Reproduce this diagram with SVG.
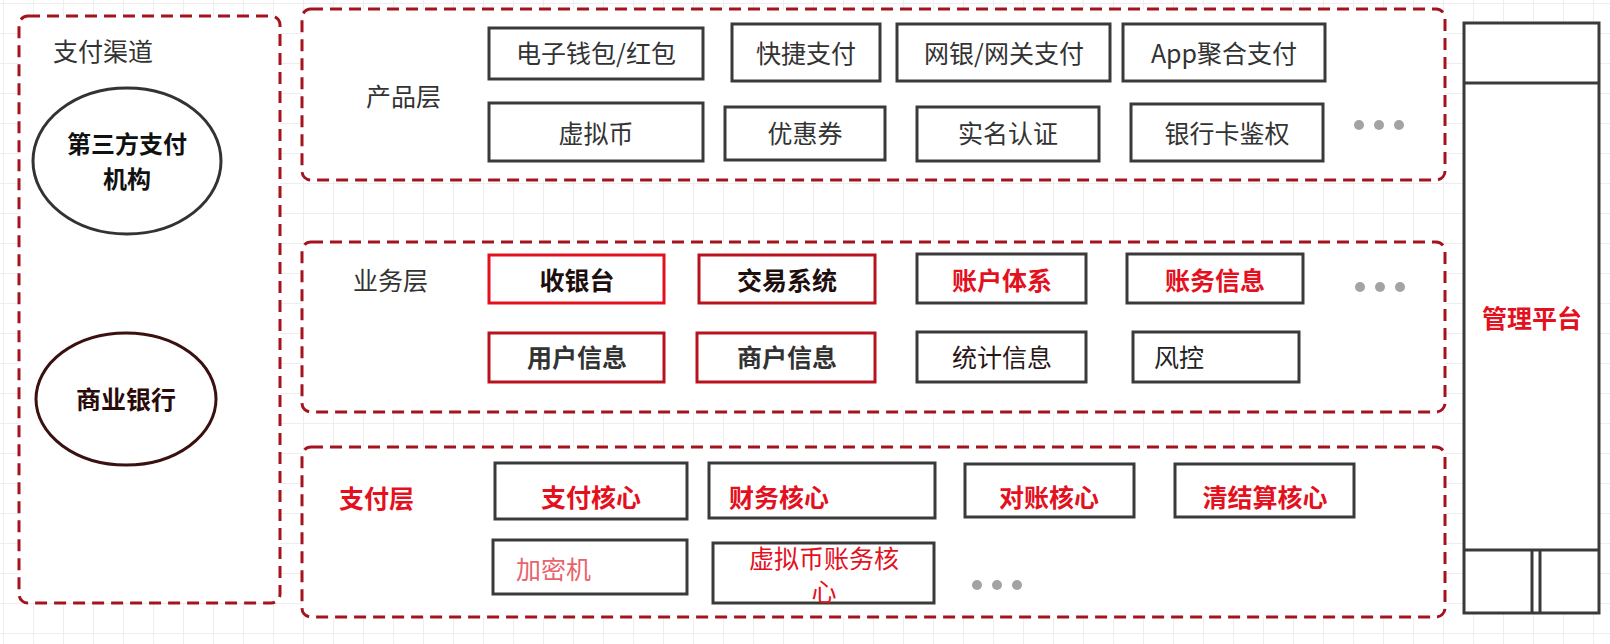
<svg xmlns="http://www.w3.org/2000/svg" width="1610" height="644" viewBox="0 0 1610 644">
<style>
text{font-family:"Noto Sans CJK SC","Noto Sans",sans-serif;font-size:25px}
.layer{fill:#fff;stroke:#a3141f;stroke-width:3;stroke-dasharray:12 7}
.box{fill:#fff;stroke:#3a3a3a;stroke-width:3}
.rbox{fill:#fff;stroke:#b8121e;stroke-width:3}
.rbox2{fill:#fff;stroke:#e3101e;stroke-width:3}
.t{fill:#333}
.c{text-anchor:middle}
.b{font-weight:bold}
.red{fill:#e3101e}
.dk{fill:#1e0e0e}
.dot{fill:#a3a3a3}
</style>
<defs>
<pattern id="grid" width="30" height="30" patternUnits="userSpaceOnUse" x="3" y="3">
<path d="M0 0H30M0 0V30" fill="none" stroke="#e9e9e9" stroke-width="1.5"/>
</pattern>
</defs>
<rect width="1610" height="644" fill="#fff"/>
<rect width="1610" height="644" fill="url(#grid)"/>

<g id="channel">
<rect class="layer" x="19" y="16" width="261" height="587" rx="9"/>
<text class="t" x="53" y="61">支付渠道</text>
</g>
<g id="third-party">
<ellipse cx="127" cy="161" rx="94" ry="73" fill="#fff" stroke="#333" stroke-width="3"/>
<text class="c b" x="127" y="153" fill="#111" style="font-size:24px">第三方支付</text>
<text class="c b" x="127" y="188" fill="#111" style="font-size:24px">机构</text>
</g>
<g id="bank">
<ellipse cx="126" cy="399" rx="90" ry="66" fill="#fff" stroke="#3a1010" stroke-width="3"/>
<text class="c b" x="126" y="409" fill="#2b0a0a">商业银行</text>
</g>

<g id="product-layer">
<rect class="layer" x="302" y="9" width="1143" height="171" rx="9"/>
<text class="t" x="366" y="106">产品层</text>
</g>
<g id="p-wallet"><rect class="box" x="489" y="28" width="214" height="51"/><text class="t c" x="596" y="63">电子钱包/红包</text></g>
<g id="p-quick"><rect class="box" x="732" y="24" width="148" height="57"/><text class="t c" x="806" y="63">快捷支付</text></g>
<g id="p-netbank"><rect class="box" x="897" y="24" width="213" height="57"/><text class="t c" x="1004" y="63">网银/网关支付</text></g>
<g id="p-app"><rect class="box" x="1123" y="24" width="202" height="57"/><text class="t c" x="1224" y="63">App聚合支付</text></g>
<g id="p-vcoin"><rect class="box" x="489" y="103" width="214" height="58"/><text class="t c" x="596" y="143">虚拟币</text></g>
<g id="p-coupon"><rect class="box" x="725" y="107" width="160" height="53"/><text class="t c" x="805" y="143">优惠券</text></g>
<g id="p-realname"><rect class="box" x="917" y="107" width="182" height="54"/><text class="t c" x="1008" y="143">实名认证</text></g>
<g id="p-cardauth"><rect class="box" x="1131" y="104" width="192" height="57"/><text class="t c" x="1227" y="143">银行卡鉴权</text></g>
<g id="p-more"><circle class="dot" cx="1359" cy="125" r="5"/><circle class="dot" cx="1379" cy="125" r="5"/><circle class="dot" cx="1399" cy="125" r="5"/></g>

<g id="business-layer">
<rect class="layer" x="302" y="242" width="1143" height="170" rx="9"/>
<text class="t" x="353" y="290">业务层</text>
</g>
<g id="b-cashier"><rect class="rbox2" x="489" y="255" width="175" height="48"/><text class="c b dk" x="577" y="290">收银台</text></g>
<g id="b-trade"><rect class="rbox" x="699" y="255" width="176" height="48"/><text class="c b dk" x="787" y="290">交易系统</text></g>
<g id="b-account"><rect class="box" x="917" y="254" width="169" height="49"/><text class="c b red" x="1002" y="290">账户体系</text></g>
<g id="b-ledger"><rect class="box" x="1127" y="254" width="176" height="49"/><text class="c b red" x="1215" y="290">账务信息</text></g>
<g id="b-more"><circle class="dot" cx="1360" cy="287" r="5"/><circle class="dot" cx="1380" cy="287" r="5"/><circle class="dot" cx="1400" cy="287" r="5"/></g>
<g id="b-user"><rect class="rbox" x="489" y="333" width="175" height="49"/><text class="t c b" x="577" y="367">用户信息</text></g>
<g id="b-merchant"><rect class="rbox" x="697" y="333" width="178" height="49"/><text class="t c b" x="787" y="367">商户信息</text></g>
<g id="b-stats"><rect class="box" x="917" y="332" width="169" height="50"/><text class="c" x="1002" y="367" fill="#2a1515">统计信息</text></g>
<g id="b-risk"><rect class="box" x="1133" y="332" width="166" height="50"/><text x="1154" y="367" fill="#222">风控</text></g>

<g id="payment-layer">
<rect class="layer" x="302" y="447" width="1143" height="170" rx="9"/>
<text class="b red" x="339" y="508">支付层</text>
</g>
<g id="y-paycore"><rect class="box" x="495" y="463" width="192" height="56"/><text class="c b red" x="591" y="507">支付核心</text></g>
<g id="y-fincore"><rect class="box" x="709" y="463" width="226" height="55"/><text class="b red" x="729" y="507">财务核心</text></g>
<g id="y-reconcile"><rect class="box" x="965" y="464" width="169" height="53"/><text class="c b red" x="1049" y="507">对账核心</text></g>
<g id="y-clearing"><rect class="box" x="1175" y="464" width="179" height="53"/><text class="c b red" x="1265" y="507">清结算核心</text></g>
<g id="y-hsm"><rect class="box" x="493" y="540" width="194" height="54"/><text x="516" y="579" fill="#e8646c">加密机</text></g>
<g id="y-vcoincore"><rect class="box" x="713" y="543" width="221" height="60"/><text class="c red" x="824" y="568">虚拟币账务核</text><text class="c red" x="824" y="601">心</text></g>
<g id="y-more"><circle class="dot" cx="977" cy="585" r="5"/><circle class="dot" cx="997" cy="585" r="5"/><circle class="dot" cx="1017" cy="585" r="5"/></g>

<g id="management">
<rect class="box" x="1464" y="23" width="135" height="590"/>
<line x1="1464" y1="83" x2="1599" y2="83" stroke="#3a3a3a" stroke-width="3"/>
<line x1="1464" y1="550" x2="1599" y2="550" stroke="#3a3a3a" stroke-width="3"/>
<line x1="1532" y1="550" x2="1532" y2="613" stroke="#3a3a3a" stroke-width="3"/>
<line x1="1540" y1="550" x2="1540" y2="613" stroke="#3a3a3a" stroke-width="3"/>
<text class="c b red" x="1532" y="328">管理平台</text>
</g>
<g id="connectors"></g>
</svg>
